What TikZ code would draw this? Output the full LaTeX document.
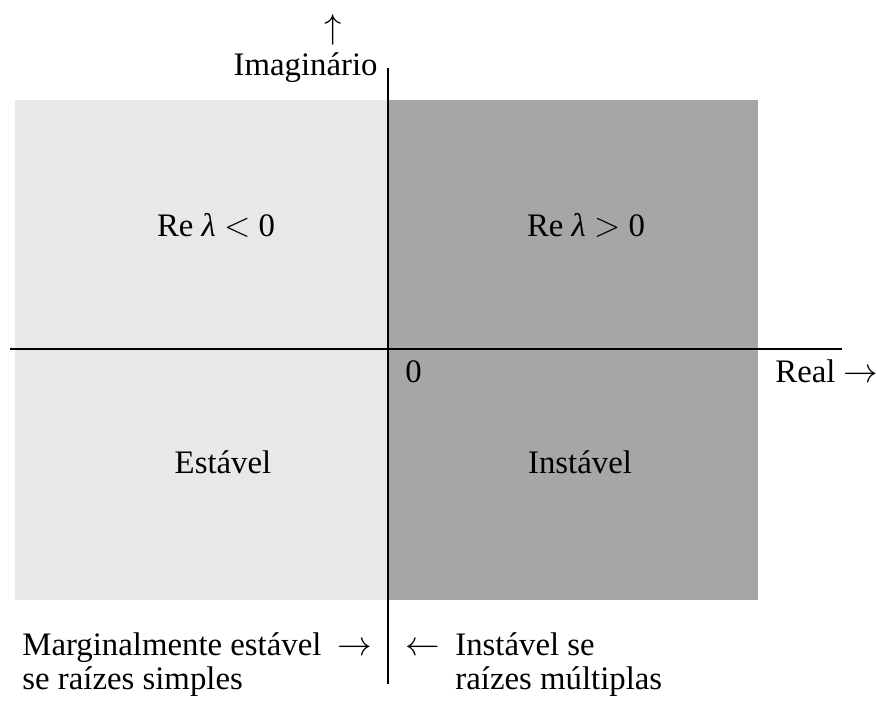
\documentclass[tikz,border=0pt]{standalone}
\usepackage{fontspec}
\setmainfont{Liberation Serif}
\usetikzlibrary{positioning}
\tikzstyle{planetext} =[inner sep=0pt, font=\fontsize{16.4}{17}\selectfont]
\tikzstyle{axisline} =[line width=1pt, black]
\definecolor{stableGray}{HTML}{E8E8E8}
\definecolor{unstableGray}{HTML}{A6A6A6}

\begin{document}
\begin{tikzpicture}[x=0.5pt, y=-0.5pt]
\useasboundingbox (0,0) rectangle (877,702);

\fill[stableGray] (15,100) rectangle (388,600);
\fill[unstableGray] (388,100) rectangle (758,600);

\coordinate (imTop) at (388,68);
\coordinate (imBottom) at (388,684);
\coordinate (reLeft) at (10,349);
\coordinate (reRight) at (842,349);

\draw[axisline] (reLeft) -- (reRight);
\draw[axisline] (imTop) -- (imBottom);

\node (imArrow) [planetext, anchor=center] at (333,30) {$\uparrow$};
\node (imLabel) [planetext, anchor=base east] at (378,75) {Imaginário};

\node (reNeg) [planetext, anchor=base] at (216,236) {Re \textit{λ} $<$ 0};
\node (rePos) [planetext, anchor=base] at (586,236) {Re \textit{λ} $>$ 0};

\node (origin) [planetext, anchor=base west] at (405,382) {0};
\node (realLabel) [planetext, anchor=base west] at (775,382) {Real $\rightarrow$};

\node (stable) [planetext, anchor=base] at (223,473) {Estável};
\node (unstable) [planetext, anchor=base] at (580,473) {Instável};

\node (margOne) [planetext, anchor=base west] at (22,655) {Marginalmente estável \ $\rightarrow$};
\node (margTwo) [planetext, anchor=base west] at (22,689) {se raízes simples};

\node (multArrow) [planetext, anchor=base west] at (405,655) {$\leftarrow$};
\node (multOne) [planetext, anchor=base west] at (455,655) {Instável se};
\node (multTwo) [planetext, anchor=base west] at (455,689) {raízes múltiplas};

\end{tikzpicture}
\end{document}
